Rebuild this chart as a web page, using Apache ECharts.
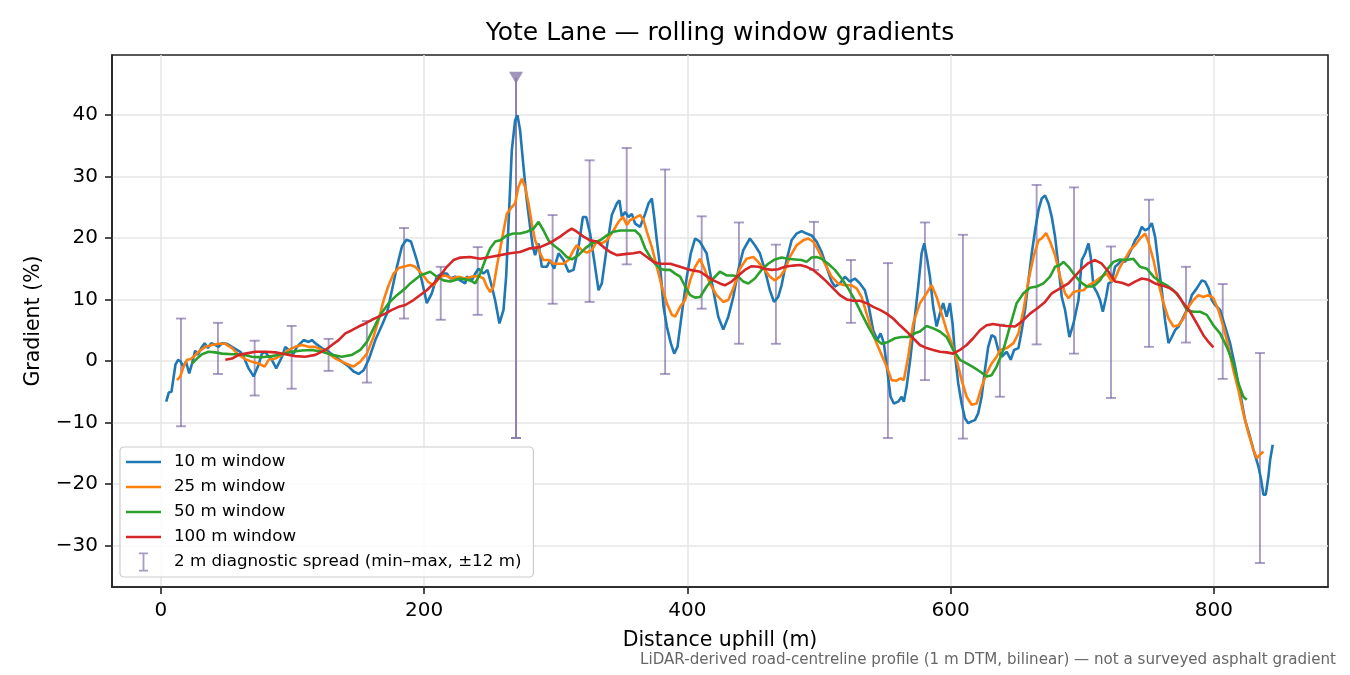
<!DOCTYPE html>
<html>
<head>
<meta charset="utf-8">
<script src="https://cdn.jsdelivr.net/npm/echarts@6/dist/echarts.min.js"></script>
<style>html,body{margin:0;padding:0;background:#fff}#c{width:1350px;height:675px}</style>
</head>
<body>
<div id="c"></div>
<script>
const FONT = 'DejaVu Sans';
const xTicks = [0, 200, 400, 600, 800];
const yTicks = [-30, -20, -10, 0, 10, 20, 30, 40];

const w10 = [[4,-6.6],[6,-5.1],[8,-5.0],[11,-0.6],[13,0.2],[15,-0.1],[17,-0.9],[19,-0.1],[21.5,-2.0],[23.6,-0.4],[26,1.7],[28,1.0],[30.6,2.1],[33.2,2.9],[35.7,2.1],[38.2,2.9],[41.3,2.6],[43.8,2.3],[46.4,2.9],[50.2,2.8],[54,2.3],[57.8,1.8],[60.3,1.5],[62.8,0.7],[66.6,-1.2],[70.4,-2.5],[74.2,-0.6],[76.7,1.2],[79.3,1.5],[81.8,0.7],[83.8,0.4],[87.6,-1.2],[92,0.7],[94.5,2.3],[97,1.8],[100.8,1.2],[103.3,2.3],[108.4,3.4],[112.2,3.1],[114.7,3.4],[117.3,2.9],[122.3,2.1],[127.4,1.5],[132.5,0.7],[137.5,-0.1],[142.6,-0.9],[146.4,-1.7],[150.2,-2.1],[154,-1.5],[157.8,0.2],[162.9,3.4],[167.9,5.8],[171.7,7.7],[175.5,11.5],[179.3,15.3],[183.1,18.6],[186.5,19.7],[190,19.4],[194.4,16.4],[198.2,13.1],[202,9.4],[205.8,11.0],[209.6,13.7],[213.4,14.2],[217.2,14.2],[219.8,13.4],[223.6,13.7],[227.4,13.1],[231.2,12.6],[232.4,13.7],[236.2,13.1],[238.8,14.2],[241.3,15.0],[245.1,14.2],[248.1,14.8],[251.4,12.1],[253.9,9.9],[257.2,6.1],[260.3,8.3],[262.3,13.7],[264.8,25.6],[266.6,34.2],[269.1,39.1],[270.9,39.9],[272.9,37.5],[275.5,31.5],[278,26.1],[280.5,21.8],[282.6,18.5],[284.3,17.2],[286.9,19.1],[289.4,15.3],[293.2,15.3],[295.7,16.4],[298.8,15.0],[302.1,17.5],[305.9,16.4],[309.7,14.5],[313.5,14.8],[317.3,18.5],[320.6,23.4],[323.1,23.4],[326.1,20.7],[329.9,15.3],[332.5,11.5],[335,12.6],[338.8,18.5],[342.6,23.7],[346.4,25.6],[348.4,26.1],[350.2,23.4],[352.7,24.2],[355.3,23.4],[357.8,23.9],[360.3,22.3],[364.1,21.8],[367.9,23.9],[370.5,25.6],[373,26.4],[374.8,23.4],[376.8,19.6],[379.3,15.3],[381.9,8.8],[384.4,5.6],[387.4,2.9],[390,1.2],[392.5,2.3],[395.8,7.7],[399.6,13.7],[402.6,17.5],[405.9,19.9],[409.5,19.4],[414.6,17.5],[419.7,11.5],[423.5,7.2],[427.3,5.1],[431.1,7.2],[434.9,10.4],[438.7,14.8],[442.5,18.0],[447.5,19.9],[451.3,18.8],[455.1,17.5],[458.9,14.8],[462.7,11.5],[465.8,9.6],[469,10.4],[471.6,12.3],[475.4,16.4],[479.2,19.6],[483,20.7],[486.8,21.1],[490.6,20.7],[494.4,20.4],[498.2,19.4],[502,17.7],[505.8,15.3],[509.6,12.9],[512.1,12.1],[515.9,12.6],[519.7,13.7],[523.5,12.9],[527.3,13.4],[531.1,12.6],[534.9,11.5],[537.4,9.4],[541.2,5.0],[544.3,3.4],[546.8,4.5],[549.3,2.9],[551.9,-1.5],[554.4,-5.8],[556.9,-6.9],[560.2,-6.6],[562.8,-5.8],[564.5,-6.6],[566.6,-4.2],[569.6,0.7],[572.9,7.2],[575.4,12.1],[578,17.5],[580,19.1],[582.3,16.4],[584.3,13.7],[586.8,8.8],[589.4,5.6],[591.9,7.7],[594.4,9.4],[597,7.2],[599.5,9.4],[601.5,6.1],[603.3,1.2],[605.8,-3.6],[608.4,-6.9],[610.9,-9.3],[613.4,-10.1],[616,-9.8],[618.5,-9.6],[621,-8.5],[623.6,-5.8],[626.1,-1.5],[628.6,2.3],[631.2,4.2],[633.7,3.9],[636.2,1.8],[638.8,0.7],[642.7,1.5],[645.7,0.2],[648.3,1.8],[651.6,2.1],[654.1,5.0],[656.6,8.3],[659.2,13.1],[661.7,17.5],[664.2,21.2],[666.8,24.5],[669.3,26.4],[671.8,26.9],[674.4,25.6],[676.9,23.4],[679.4,20.2],[682,15.3],[684.5,10.4],[687,8.3],[690.3,3.9],[693.4,6.1],[697.2,9.9],[699.7,16.4],[702.3,17.5],[704.8,19.1],[706.5,16.9],[708.6,12.1],[711.1,11.2],[713.6,9.9],[715.7,8.0],[718.2,10.4],[720,12.6],[722.5,12.9],[725,15.3],[727.6,15.8],[730.1,16.4],[732.6,16.1],[735.2,17.2],[737.7,18.3],[740.2,19.6],[742.8,20.4],[745.3,21.8],[747.8,21.2],[750.3,21.5],[752.9,22.4],[755.4,20.2],[757.9,15.8],[760.5,11.5],[763,6.6],[765.6,2.9],[768.1,3.9],[770.6,5.0],[773.2,5.6],[775.7,6.6],[778.2,7.7],[780.8,8.8],[783.3,10.7],[787.1,11.8],[790.9,13.1],[793.4,12.9],[796,11.8],[798.5,9.9],[801,9.1],[804.8,8.3],[808.6,5.6],[812.4,2.9],[816.2,-0.9],[820,-5.2],[823.8,-9.6],[827.1,-12.0],[830.1,-14.4],[833.9,-17.1],[836,-19.3],[837.7,-21.7],[839.5,-21.7],[841.5,-18.8],[842.8,-16.1],[844.8,-13.6]];

const w25 = [[12.2,-3.1],[14.7,-2.5],[17.2,-0.9],[19.8,0.2],[22.3,0.3],[24.8,0.7],[28.6,1.5],[33.7,2.3],[38.8,2.6],[43.8,2.8],[48.9,2.8],[54,2.1],[59,1.0],[64.1,0.3],[69.1,-0.1],[74.2,-0.4],[78.8,-0.9],[81.8,0.2],[86.9,0.4],[91.9,1.0],[97,1.8],[102.1,2.3],[107.1,2.6],[112.2,2.3],[117.3,2.3],[122.3,1.8],[127.4,1.2],[132.5,0.4],[137.5,-0.1],[142.6,-0.6],[146.4,-0.9],[151.5,-0.1],[156.5,1.2],[161.6,4.0],[165.4,6.7],[169.2,9.9],[173,12.3],[176.8,14.2],[180.6,15.1],[185.7,15.4],[189.4,15.6],[193.2,15.3],[198.2,14.2],[203.3,12.8],[207.1,12.3],[212.2,13.7],[216,13.9],[221,13.4],[226.1,13.7],[231.2,13.4],[236.2,13.7],[241.3,13.8],[245.1,13.4],[247.6,12.1],[250.2,11.2],[252.7,12.1],[255.2,15.3],[259,19.6],[262.8,23.9],[266.6,25.0],[269.1,25.6],[271.7,28.3],[274.2,29.6],[276.7,28.3],[279.3,25.6],[281.8,22.3],[284.3,19.6],[288.1,17.5],[290.7,16.4],[294.5,16.4],[298.3,15.8],[302.1,15.8],[305.9,15.8],[309.7,16.4],[313.5,18.0],[316,18.8],[319.8,18.0],[323.6,17.6],[327.4,18.0],[331.2,19.4],[335,19.1],[338.8,19.6],[343.9,21.2],[347.7,22.6],[351,23.4],[354,22.1],[356.5,22.9],[359.1,23.1],[361.6,23.4],[364.1,23.7],[366.7,22.9],[369.2,21.0],[373,18.5],[376.8,15.3],[380.6,12.1],[384.4,9.4],[388.2,7.5],[390.7,7.2],[394.5,8.8],[398.3,9.9],[402.1,13.1],[405.9,15.3],[409.5,16.6],[413.3,14.8],[417.1,12.6],[422.2,10.7],[427.3,9.6],[431.1,9.9],[434.9,11.8],[439.9,15.0],[445,16.6],[450.1,16.9],[453.8,16.1],[458.9,14.8],[462.7,13.7],[466.5,13.1],[470.3,13.7],[474.1,14.8],[477.9,16.9],[483,18.8],[488,19.6],[491.8,19.9],[495.6,19.4],[499.4,18.0],[504.5,15.8],[509.6,13.7],[514.6,12.6],[519.7,12.3],[524.8,12.3],[528.6,11.8],[532.4,10.4],[536.2,7.7],[540,5.0],[543.8,2.9],[547.6,1.0],[551.4,-0.9],[555.2,-3.1],[559,-3.2],[562,-2.8],[564.5,-3.1],[567.8,0.7],[571.6,6.1],[576.7,9.4],[581.8,11.0],[585.6,12.3],[589.4,10.4],[593.2,7.7],[597,5.0],[600.8,2.9],[604.6,0.2],[608.4,-3.1],[612.2,-5.8],[616,-7.1],[619.8,-6.9],[623.6,-4.2],[627.4,-2.0],[631.2,-0.4],[635,0.7],[637.6,1.8],[642.7,2.1],[647.8,2.9],[651.6,4.5],[655.4,8.3],[659.2,13.1],[663,16.9],[666.8,19.6],[669.3,19.9],[672.6,20.8],[675.6,19.4],[679.4,17.2],[683.2,13.7],[687,11.0],[689.6,10.2],[693.4,11.2],[697.2,11.4],[701,11.5],[704.8,12.3],[709.8,12.9],[714.9,13.7],[718.7,14.2],[722.5,12.9],[725,13.4],[728.8,15.3],[732.6,16.6],[736.4,18.0],[740.2,18.8],[744,19.9],[747.8,20.7],[750.3,19.4],[754.2,16.4],[758,12.6],[761.8,9.4],[765.6,6.9],[769.4,5.6],[773.2,5.8],[777,6.9],[780.8,8.8],[784.5,9.9],[788.3,10.7],[792.1,10.4],[795.9,10.7],[799.7,10.2],[803.5,8.3],[807.3,5.6],[811.1,2.3],[814.9,-1.5],[818.7,-4.7],[822.5,-8.5],[826.3,-11.7],[830.1,-14.4],[832.7,-15.8],[835.2,-15.2],[837.7,-14.7]];

const w50 = [[23.6,-0.4],[27.4,0.4],[31.2,1.1],[36.2,1.5],[41.3,1.4],[46.4,1.2],[54,1.1],[61.5,1.1],[69.1,0.7],[76.7,0.6],[84.3,0.8],[91.9,1.1],[99.5,1.5],[107.1,1.7],[114.7,1.8],[122.3,1.5],[129.9,1.0],[137.5,0.7],[145.1,1.0],[151.5,1.8],[156.5,3.1],[161.6,5.3],[166.7,7.5],[173,9.4],[179.3,10.7],[185.7,11.8],[189.4,12.6],[197,13.9],[204.6,14.5],[209.6,13.7],[214.7,13.1],[219.8,12.9],[227.4,13.4],[235,13.1],[238.8,12.6],[242.6,14.2],[246.4,16.4],[250.2,18.3],[254,19.4],[257.8,19.6],[262.8,20.4],[267.9,20.7],[272.9,20.7],[278,21.0],[283.1,21.5],[286.9,22.6],[290.7,21.2],[294.5,19.6],[298.3,18.8],[303.3,18.0],[308.4,16.9],[312.2,16.5],[317.3,17.2],[322.3,18.3],[327.4,19.1],[333.7,19.6],[338.8,20.4],[343.9,21.0],[348.9,21.2],[355.3,21.2],[360.3,21.2],[364.1,20.4],[367.9,18.3],[371.7,16.9],[375.5,15.8],[379.3,15.0],[383.1,14.8],[386.9,14.8],[390.7,14.2],[394.5,13.7],[398.3,12.1],[402.1,10.7],[405.9,10.3],[409.7,10.4],[414.6,12.1],[419.7,13.4],[424.7,14.5],[429.8,13.9],[434.9,13.9],[438.7,13.7],[442.5,12.9],[446.3,12.6],[451.3,13.4],[456.4,14.8],[461.4,15.8],[466.5,16.5],[471.6,16.8],[476.6,16.6],[481.7,16.5],[486.8,16.4],[490.6,16.1],[494.4,16.8],[498.2,16.9],[502,16.6],[507,15.8],[512.1,14.8],[517.2,13.4],[522.2,11.8],[527.3,9.9],[532.4,7.7],[537.4,5.6],[542.5,3.7],[547.6,2.8],[552.6,3.1],[557.7,3.7],[562.8,3.9],[567.8,3.9],[572.9,4.5],[576.7,4.8],[581.8,5.7],[586.8,5.3],[591.9,4.8],[597,3.9],[602,1.8],[607.1,0.2],[612.2,-0.4],[617.2,-1.0],[622.3,-1.7],[627.4,-2.5],[631.2,-2.3],[635,-0.9],[640.1,1.8],[645.1,5.6],[650.2,9.4],[655.4,11.0],[660.4,11.9],[665.5,12.1],[670.6,12.6],[675.6,13.7],[679.4,15.3],[683.2,15.6],[685.8,16.1],[689.6,15.3],[693.4,14.2],[698.4,12.9],[703.5,12.1],[708.6,12.1],[713.6,13.1],[718.7,14.8],[723.8,16.1],[728.8,16.5],[733.9,16.4],[738.9,16.6],[744,15.3],[749.1,15.0],[754.2,13.7],[759.2,12.9],[764.3,12.3],[769.4,11.5],[774.4,10.2],[779.5,8.3],[784.5,8.0],[789.6,8.0],[794.7,7.5],[799.7,5.8],[804.8,4.5],[809.9,2.3],[814.9,-0.4],[818.7,-3.6],[822.5,-5.8],[825.1,-6.3]];

const w100 = [[48.9,0.2],[54,0.4],[59,1.0],[64.1,1.2],[71.7,1.5],[79.3,1.5],[86.9,1.4],[94.5,1.1],[102.1,0.8],[109.7,0.7],[117.3,1.0],[124.9,1.8],[129.9,2.6],[135,3.4],[140.1,4.5],[145.1,5.0],[150.2,5.6],[155.3,6.1],[160.3,6.7],[165.4,7.2],[170.5,7.7],[175.5,8.3],[180.6,8.8],[185.7,9.1],[191.9,9.9],[202,11.5],[209.6,13.1],[217.2,15.3],[222.3,16.4],[227.4,16.8],[235,16.9],[242.6,16.6],[250.2,16.9],[257.8,17.2],[265.3,17.5],[272.9,17.7],[280.5,18.3],[288.1,18.5],[295.7,19.2],[303.3,20.2],[308.4,21.0],[312.2,21.5],[316,21.0],[321.1,20.2],[326.1,19.6],[331.2,19.4],[336.3,18.5],[341.3,17.7],[346.4,17.2],[354,17.4],[359.1,17.5],[364.1,17.7],[369.2,16.9],[374.3,16.1],[379.3,15.8],[386.9,15.8],[394.5,15.3],[402.1,14.8],[409.7,14.5],[414.6,13.8],[419.7,13.1],[424.7,12.6],[428.5,12.3],[433.6,12.9],[438.7,13.9],[443.7,14.8],[448.8,15.4],[453.8,15.3],[458.9,15.0],[464,14.8],[469,14.9],[474.1,15.3],[480.4,15.5],[485.5,15.6],[490.6,15.3],[495.6,14.8],[500.7,13.9],[505.8,12.9],[510.8,11.8],[515.9,10.7],[521,10.0],[526,9.8],[531.1,9.8],[536.2,9.4],[541.2,8.8],[546.3,8.3],[551.4,7.7],[556.4,6.9],[561.5,5.8],[566.6,4.8],[571.6,3.7],[576.7,2.6],[581.8,2.1],[586.8,1.8],[591.9,1.5],[597,1.4],[602,1.2],[607.1,1.8],[612.2,2.6],[617.2,3.7],[622.3,5.0],[627.4,5.8],[632.4,6.0],[637.5,5.8],[642.6,5.7],[649,5.6],[654.1,6.4],[660.4,7.7],[665.5,8.5],[671.8,9.6],[676.9,11.0],[683.2,11.8],[689.6,12.6],[694.6,13.8],[699.7,15.0],[704.8,15.9],[709.8,16.4],[714.9,15.8],[720,14.5],[725,12.9],[730.1,12.7],[735.2,12.3],[740.2,12.9],[745.3,13.4],[750.3,13.2],[755.4,12.6],[761.8,12.2],[766.8,11.8],[771.9,11.0],[776.9,9.4],[782,8.0],[787.1,6.1],[792.1,4.2],[796,3.1],[799.7,2.2]];

const errX   = [15.2, 43.3, 71.2, 99.3, 127.4, 156.5, 184.7, 212.6, 240.7, 269.8, 297.6, 325.7, 353.9, 383.1, 410.9, 439.2, 467.3, 496.2, 524.3, 552.4, 580.5, 609.4, 637.5, 665.4, 693.8, 721.9, 750.8, 778.9, 806.8, 835.1];
const errMin = [-10.6, -2.1, -5.6, -4.5, -1.6, -3.5, 6.9, 6.7, 7.5, -12.5, 9.3, 9.6, 15.7, -2.1, 8.5, 2.8, 2.8, 14.8, 6.2, -12.5, -3.1, -12.6, -5.8, 2.7, 1.2, -6.0, 2.3, 3.0, -2.9, -32.8];
const errMax = [6.9, 6.2, 3.3, 5.7, 3.6, 6.5, 21.6, 15.3, 18.5, 46, 23.7, 32.6, 34.6, 31.1, 23.5, 22.5, 18.9, 22.6, 16.4, 15.9, 22.5, 20.5, 5.9, 28.6, 28.2, 18.6, 26.2, 15.3, 12.5, 1.3];
const errClipped = [0,0,0,0,0,0,0,0,0,1,0,0,0,0,0,0,0,0,0,0,0,0,0,0,0,0,0,0,0,0];
const clipMarker = [[269.8, 46]];

const names = ['10 m window', '25 m window', '50 m window', '100 m window', '2 m diagnostic spread (min\u2013max, \u00b112 m)'];
const colors = ['#1f77b4', '#ff7f0e', '#2ca02c', '#d62728'];
const errColor = 'rgba(110,90,155,0.6)';
const errColorSolid = '#a89cc3';
const errColorClip = '#8a7aaa';

const errData = errX.map((x, i) => [x, errMin[i], errMax[i], errClipped[i]]);

function fmt(v) { return v < 0 ? '\u2212' + Math.abs(v) : String(v); }

const chart = echarts.init(document.getElementById('c'), null, {renderer: 'canvas'});

function lineSeries(name, data, color) {
  return {
    name: name, type: 'line', data: data, symbol: 'none', showSymbol: false,
    lineStyle: {color: color, width: 2.6}, itemStyle: {color: color},
    z: 3, animation: false, clip: true
  };
}

const lineIcon = 'path://M0,0H35V2.6H0Z';
const beamIcon = 'path://M0,0H9V1.8H5.4V17.2H9V19H0V17.2H3.6V1.8H0Z';

chart.setOption({
  animation: false,
  backgroundColor: '#ffffff',
  textStyle: {fontFamily: FONT},
  grid: {left: 112, right: 22, top: 55, bottom: 88, show: true, borderColor: '#222', borderWidth: 1.6, backgroundColor: 'transparent'},
  xAxis: {
    type: 'value', min: -37.2, max: 886.8,
    axisLine: {show: true, onZero: false, lineStyle: {color: '#222', width: 1.6}},
    axisTick: {show: true, inside: false, length: 7, lineStyle: {color: '#222', width: 1.6}, customValues: xTicks},
    axisLabel: {customValues: xTicks, margin: 14, fontSize: 20, color: '#000', fontFamily: FONT, formatter: fmt},
    splitLine: {show: true, lineStyle: {color: '#e6e6e6', width: 1.5}},
    name: 'Distance uphill (m)', nameLocation: 'middle', nameGap: 43,
    nameTextStyle: {fontSize: 20.5, color: '#000', fontFamily: FONT}
  },
  yAxis: {
    type: 'value', min: -36.7, max: 49.7,
    axisLine: {show: true, onZero: false, lineStyle: {color: '#222', width: 1.6}},
    axisTick: {show: true, inside: false, length: 7, lineStyle: {color: '#222', width: 1.6}, customValues: yTicks},
    axisLabel: {customValues: yTicks, margin: 14, fontSize: 20, color: '#000', fontFamily: FONT, formatter: fmt},
    splitLine: {show: true, lineStyle: {color: '#e6e6e6', width: 1.5}},
    name: 'Gradient (%)', nameLocation: 'middle', nameGap: 68, nameRotate: 90,
    nameTextStyle: {fontSize: 20.5, color: '#000', fontFamily: FONT}
  },
  legend: {
    orient: 'vertical', left: 120, top: 447,
    padding: [5, 12, 5, 6], itemWidth: 35, itemHeight: 19, itemGap: 5,
    backgroundColor: 'rgba(255,255,255,0.85)', borderColor: '#cccccc', borderWidth: 1.2, borderRadius: 4,
    textStyle: {fontSize: 16.7, fontFamily: FONT, color: '#000', lineHeight: 20, padding: [0, 0, 0, 8]},
    data: [
      {name: names[0], icon: lineIcon}, {name: names[1], icon: lineIcon},
      {name: names[2], icon: lineIcon}, {name: names[3], icon: lineIcon},
      {name: names[4], icon: beamIcon, itemStyle: {color: errColorSolid}}
    ]
  },
  graphic: [
    {type: 'text', x: 720, y: 33, z: 10, style: {text: 'Yote Lane \u2014 rolling window gradients', fill: '#000', font: '25px "DejaVu Sans"', textAlign: 'center', textVerticalAlign: 'middle'}},
    {type: 'text', x: 1336, y: 660, z: 10, style: {text: 'LiDAR-derived road-centreline profile (1 m DTM, bilinear) \u2014 not a surveyed asphalt gradient', fill: '#666666', font: '15.1px "DejaVu Sans"', textAlign: 'right', textVerticalAlign: 'middle'}}
  ],
  series: [
    {
      name: names[4], type: 'custom', data: errData, z: 1, animation: false,
      itemStyle: {color: errColor},
      encode: {x: 0, y: [1, 2]},
      renderItem: function (params, api) {
        const x = api.value(0), lo = api.value(1), hi = api.value(2), clipped = api.value(3);
        const pLo = api.coord([x, lo]);
        const pHi = api.coord([x, hi]);
        const c = clipped ? errColorClip : errColor;
        const cw = 5;
        const st = {stroke: c, lineWidth: 1.9};
        const kids = [
          {type: 'line', shape: {x1: pLo[0], y1: pLo[1], x2: pHi[0], y2: pHi[1]}, style: st},
          {type: 'line', shape: {x1: pLo[0] - cw, y1: pLo[1], x2: pLo[0] + cw, y2: pLo[1]}, style: st}
        ];
        if (!clipped) kids.push({type: 'line', shape: {x1: pHi[0] - cw, y1: pHi[1], x2: pHi[0] + cw, y2: pHi[1]}, style: st});
        return {type: 'group', children: kids};
      }
    },
    lineSeries(names[0], w10, colors[0]),
    lineSeries(names[1], w25, colors[1]),
    lineSeries(names[2], w50, colors[2]),
    lineSeries(names[3], w100, colors[3]),
    {
      name: 'clipped', type: 'scatter', data: clipMarker, symbol: 'triangle', symbolRotate: 180,
      symbolSize: [14, 12], itemStyle: {color: errColorClip}, z: 4, animation: false
    }
  ]
});
</script>
</body>
</html>
